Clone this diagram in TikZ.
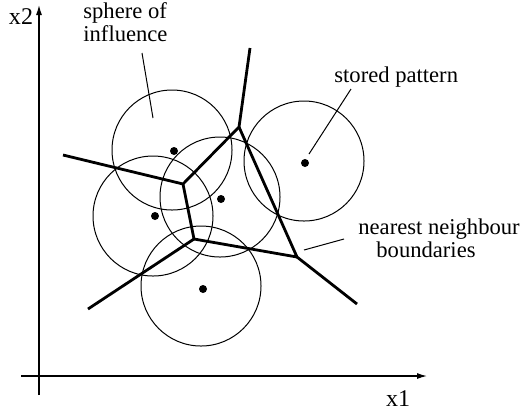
\documentclass[tikz,border=0pt]{standalone}
\usepackage{fontspec}
\setmainfont{Liberation Serif}
\usetikzlibrary{arrows.meta}
\begin{document}
\begin{tikzpicture}[x=0.5pt,y=-0.5pt,
  thinline/.style={line width=0.5pt},
  boundary/.style={line width=1.4pt, line join=miter},
  sphere/.style={circle, draw, line width=0.5pt, minimum size=60pt, inner sep=0pt},
  pattern/.style={circle, fill, minimum size=4pt, inner sep=0pt},
  lbl/.style={font=\fontsize{11.3pt}{9pt}\selectfont, inner sep=0pt, align=left},
  axis/.style={line width=0.6pt, -{Latex[length=5pt,width=3pt]}}]
\useasboundingbox (0,0) rectangle (522,414);
% axes
\coordinate (ybot) at (39,395);
\coordinate (ytop) at (39,5);
\coordinate (xleft) at (21,376);
\coordinate (xright) at (427,376);
\draw[axis] (ybot) -- (ytop);
\draw[axis] (xleft) -- (xright);
\node[lbl, anchor=center, font=\fontsize{12pt}{12pt}\selectfont] (lx2) at (21,17) {x2};
\node[lbl, anchor=center, font=\fontsize{12pt}{12pt}\selectfont] (lx1) at (398,399) {x1};
% spheres and patterns
\node[sphere] (s1) at (172,150) {};
\node[sphere] (s2) at (304,161) {};
\node[sphere] (s3) at (153,216) {};
\node[sphere] (s4) at (220,197) {};
\node[sphere] (s5) at (201,286) {};
\node[pattern] (p1) at (174,151) {};
\node[pattern] (p2) at (305,163) {};
\node[pattern] (p3) at (155,216) {};
\node[pattern] (p4) at (221,199) {};
\node[pattern] (p5) at (203,289) {};
% nearest neighbour boundaries
\coordinate (va) at (183,184);
\coordinate (vb) at (239,127);
\coordinate (vc) at (194,239);
\coordinate (vd) at (297,257);
\coordinate (ea) at (63,155);
\coordinate (eb) at (250,48);
\coordinate (ec) at (88,309);
\coordinate (ed) at (357,304);
\draw[boundary] (ea) -- (va) -- (vb) -- (eb);
\draw[boundary] (vb) -- (vd) -- (ed);
\draw[boundary] (va) -- (vc) -- (vd);
\draw[boundary] (vc) -- (ec);
% labels and pointers
\node[lbl, anchor=base west] (lsphere) at (83,41) {sphere of\\influence};
\coordinate (ps1) at (142,53);
\coordinate (ps2) at (153,118);
\draw[thinline] (ps1) -- (ps2);
\node[lbl, anchor=base west] (lstored) at (334,82) {stored pattern};
\coordinate (pt1) at (351,89);
\coordinate (pt2) at (309,154);
\draw[thinline] (pt1) -- (pt2);
\node[lbl, anchor=base west] (lnn) at (358,257) {nearest neighbour\\\hspace*{9pt}boundaries};
\coordinate (pn1) at (344,239);
\coordinate (pn2) at (304,250);
\draw[thinline] (pn1) -- (pn2);
\end{tikzpicture}
\end{document}
